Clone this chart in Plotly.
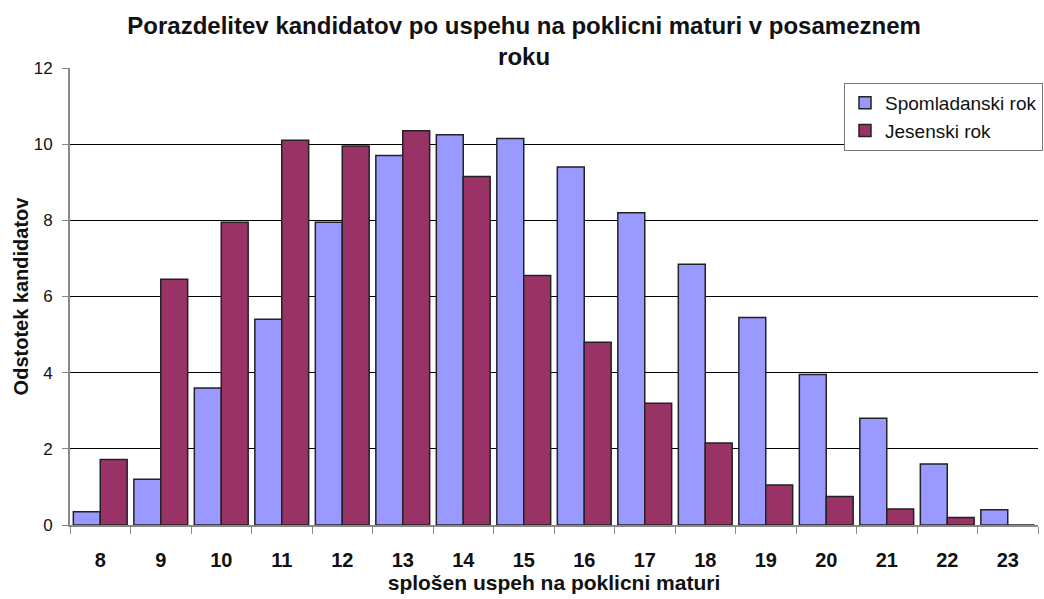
import plotly.graph_objects as go

categories = ["8", "9", "10", "11", "12", "13", "14", "15", "16", "17", "18", "19", "20", "21", "22", "23"]
spomladanski = [0.35, 1.2, 3.6, 5.4, 7.95, 9.7, 10.25, 10.15, 9.4, 8.2, 6.85, 5.45, 3.95, 2.8, 1.6, 0.4]
jesenski = [1.72, 6.45, 7.95, 10.1, 9.95, 10.35, 9.15, 6.55, 4.8, 3.2, 2.15, 1.05, 0.75, 0.42, 0.2, 0]
yticks = [0, 2, 4, 6, 8, 10, 12]

font = "Liberation Sans, Arial, sans-serif"

fig = go.Figure()
fig.add_trace(go.Bar(x=categories, y=spomladanski, name="Spomladanski rok",
                     marker=dict(color="#9999FF", line=dict(color="#222222", width=1.5))))
fig.add_trace(go.Bar(x=categories, y=jesenski, name="Jesenski rok",
                     marker=dict(color="#993366", line=dict(color="#222222", width=1.5))))

fig.update_layout(
    width=1044, height=599, autosize=False,
    margin=dict(l=70, r=6, t=68, b=74, autoexpand=False),
    paper_bgcolor="white", plot_bgcolor="white",
    barmode="group", bargap=0.11, bargroupgap=0,
    font=dict(family=font, color="#000000"),
    title=dict(text="<b>Porazdelitev kandidatov po uspehu na poklicni maturi v posameznem<br>roku</b>",
               x=0.502, xanchor="center", xref="container", yref="container",
               y=1 - 34 / 599, yanchor="top",
               font=dict(size=24, family=font, color="#111111")),
    legend=dict(xref="container", yref="container",
                x=1043 / 1044, xanchor="right", y=1 - 83 / 599, yanchor="top",
                bordercolor="#777777", borderwidth=1, bgcolor="white",
                font=dict(size=19, family=font, color="#111111"),
                itemwidth=30, tracegroupgap=2),
    xaxis=dict(type="category", showline=True, linecolor="#888888", linewidth=2,
               ticks="outside", tickson="boundaries", ticklen=7, tickcolor="#888888",
               tickfont=dict(size=20, family=font, color="#111111"),
               tickprefix="<b>", ticksuffix="</b>", ticklabelstandoff=16,
               automargin=False,
               title=dict(text="<b>splošen uspeh na poklicni maturi</b>",
                          font=dict(size=21, color="#111111"), standoff=0)),
    yaxis=dict(range=[0, 12], tickvals=yticks, showgrid=True, gridcolor="#000000", gridwidth=1,
               showline=True, linecolor="#888888", linewidth=2, ticks="outside", ticklen=6,
               tickcolor="#888888", tickfont=dict(size=17, family=font, color="#111111"),
               ticklabelstandoff=6, automargin=False,
               title=dict(text="<b>Odstotek kandidatov</b>",
                          font=dict(size=20, color="#111111"), standoff=0),
               zeroline=False),
)

post = ("document.body.style.margin='0';document.body.style.overflow='hidden';"
        "var gd=document.getElementById('{plot_id}');"
        "Plotly.relayout(gd,{width:1044,height:599});")

fig.write_html("out.html", config={"responsive": False, "displayModeBar": False}, post_script=post)
